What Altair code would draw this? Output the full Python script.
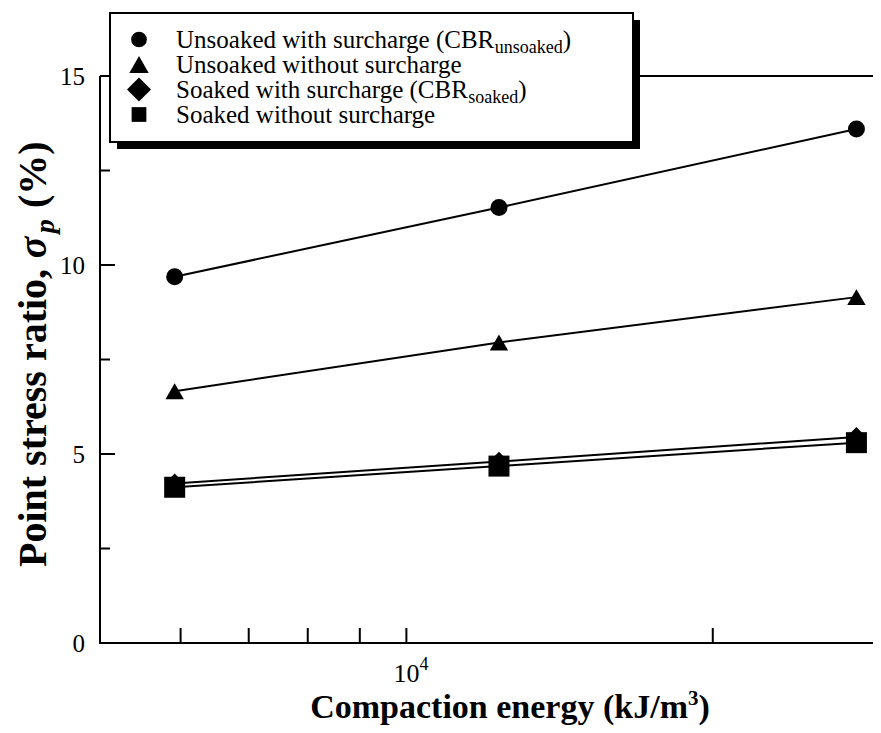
import altair as alt
import pandas as pd

# ---------------- data ----------------
energy = [5920, 12330, 27680]
series_names = [
    "Unsoaked with surcharge (CBR unsoaked)",
    "Unsoaked without surcharge",
    "Soaked with surcharge (CBR soaked)",
    "Soaked without surcharge",
]
unsoaked_with = [9.69, 11.52, 13.6]
unsoaked_without = [6.66, 7.95, 9.15]
soaked_with = [4.22, 4.80, 5.45]
soaked_without = [4.12, 4.68, 5.30]
series_values = [unsoaked_with, unsoaked_without, soaked_with, soaked_without]

legend_main = ["Unsoaked with surcharge (CBR", "Unsoaked without surcharge",
               "Soaked with surcharge (CBR", "Soaked without surcharge"]
legend_sub = ["unsoaked", "", "soaked", ""]
legend_tail = [")", "", ")", ""]

x_tick_values = [6000, 7000, 8000, 9000, 10000, 20000]
x_label_values = [10000]
y_major_ticks = [0, 5, 10, 15]
y_major_labels = ["0", "5", "10", "15"]
y_minor_ticks = [2.5, 7.5, 12.5]

shapes = ["circle", "triangle-up", "diamond", "square"]
sizes = [289, 441, 676, 256]

# ---------------- layout helpers ----------------
W, H = 792, 567
FONT = "Liberation Serif"
TIMES = {'U': 722, 'n': 500, 's': 389, 'o': 500, 'a': 444, 'k': 500, 'e': 444, 'd': 500,
         ' ': 250, 'w': 722, 'i': 278, 't': 278, 'h': 500, 'u': 500, 'r': 333, 'c': 444,
         'g': 500, '(': 333, 'C': 667, 'B': 667, 'R': 667, 'S': 556, ')': 333}
TIMES_B = {'P': 611, 'o': 500, 'i': 278, 'n': 556, 't': 333, 's': 389, 'r': 444, 'e': 444,
           'a': 500, ',': 250, ' ': 250, '(': 333, '%': 1000, ')': 333,
           'C': 722, 'm': 833, 'p': 556, 'c': 444, 'g': 500, 'y': 500, 'k': 556,
           'J': 500, '/': 278}


def tw(s, size, table):
    return sum(table.get(c, 500) for c in s) * size / 1000.0


rows = []
for name, vals in zip(series_names, series_values):
    for e, v in zip(energy, vals):
        rows.append({"series": name, "energy": e, "ratio": v})
df = pd.DataFrame(rows)

xscale = alt.Scale(type="log", domain=[5000, 30000], nice=False)
yscale = alt.Scale(domain=[0, 15], nice=False, zero=False)

one = pd.DataFrame({"k": [0]})

lines = alt.Chart(df).mark_line(color="black", strokeWidth=2).encode(
    x=alt.X("energy:Q", scale=xscale, axis=None),
    y=alt.Y("ratio:Q", scale=yscale, axis=None),
    detail="series:N",
)

points = alt.Chart(df).mark_point(filled=True, opacity=1, color="black").encode(
    x=alt.X("energy:Q", scale=xscale, axis=None),
    y=alt.Y("ratio:Q", scale=yscale, axis=None),
    shape=alt.Shape("series:N", scale=alt.Scale(domain=series_names, range=shapes), legend=None),
    size=alt.Size("series:O", scale=alt.Scale(domain=series_names, range=sizes), legend=None),
)

# frame
frame = [
    alt.Chart(one).mark_rule(color="black", strokeWidth=2).encode(
        x=alt.value(0), y=alt.value(0), y2=alt.value(H)),
    alt.Chart(one).mark_rule(color="black", strokeWidth=2).encode(
        x=alt.value(W), y=alt.value(0), y2=alt.value(H)),
    alt.Chart(one).mark_rule(color="black", strokeWidth=2).encode(
        y=alt.value(0), x=alt.value(0), x2=alt.value(W)),
    alt.Chart(one).mark_rule(color="black", strokeWidth=2).encode(
        y=alt.value(H), x=alt.value(-1), x2=alt.value(W)),
]

# ticks (inward)
xt = pd.DataFrame({"t": x_tick_values})
ymj = pd.DataFrame({"t": y_major_ticks, "lab": y_major_labels})
ymn = pd.DataFrame({"t": y_minor_ticks})
ticks = [
    alt.Chart(xt).mark_rule(color="black", strokeWidth=2).encode(
        x=alt.X("t:Q", scale=xscale, axis=None), y=alt.value(H), y2=alt.value(H - 15)),
    alt.Chart(ymj).mark_rule(color="black", strokeWidth=2).encode(
        y=alt.Y("t:Q", scale=yscale, axis=None), x=alt.value(0), x2=alt.value(15)),
    alt.Chart(ymn).mark_rule(color="black", strokeWidth=2).encode(
        y=alt.Y("t:Q", scale=yscale, axis=None), x=alt.value(0), x2=alt.value(10)),
    alt.Chart(ymj).mark_rule(color="black", strokeWidth=2).encode(
        y=alt.Y("t:Q", scale=yscale, axis=None), x=alt.value(W), x2=alt.value(W - 15)),
    alt.Chart(ymn).mark_rule(color="black", strokeWidth=2).encode(
        y=alt.Y("t:Q", scale=yscale, axis=None), x=alt.value(W), x2=alt.value(W - 10)),
]

# y tick labels
ylabels = alt.Chart(ymj).mark_text(font=FONT, fontSize=25, color="black", align="right",
                                   baseline="middle", dy=1).encode(
    y=alt.Y("t:Q", scale=yscale, axis=None), x=alt.value(-15), text="lab:N")

# x tick label 10^4
xl = pd.DataFrame({"t": x_label_values})
xlabels = [
    alt.Chart(xl).mark_text(text="10", font=FONT, fontSize=26, color="black", align="center",
                            baseline="alphabetic", dx=0).encode(
        x=alt.X("t:Q", scale=xscale, axis=None), y=alt.value(H + 39)),
    alt.Chart(xl).mark_text(text="4", font=FONT, fontSize=18, color="black", align="left",
                            baseline="alphabetic", dx=13).encode(
        x=alt.X("t:Q", scale=xscale, axis=None), y=alt.value(H + 27)),
]

# x title
XT = 34
xt_main = "Compaction energy (kJ/m"
xt_w = tw(xt_main, XT, TIMES_B)
xt_total = xt_w + 0.5 * 21 + 0.333 * XT
xt_left = 410 - xt_total / 2
xtitle = [
    alt.Chart(one).mark_text(text=xt_main, font=FONT, fontSize=XT, fontWeight="bold",
                             align="left", baseline="alphabetic", color="black").encode(
        x=alt.value(xt_left), y=alt.value(H + 75)),
    alt.Chart(one).mark_text(text="3", font=FONT, fontSize=21, fontWeight="bold",
                             align="left", baseline="alphabetic", color="black").encode(
        x=alt.value(xt_left + xt_w), y=alt.value(H + 62)),
    alt.Chart(one).mark_text(text=")", font=FONT, fontSize=XT, fontWeight="bold",
                             align="left", baseline="alphabetic", color="black").encode(
        x=alt.value(xt_left + xt_w + 10.5), y=alt.value(H + 75)),
]

# y title composite (rotated)
YT = 40
ytx = -54
y0 = 491
p1 = "Point stress ratio, "
w1 = tw(p1, YT, TIMES_B)
wsig = 0.62 * YT
psz = 0.7 * YT
wp = 0.55 * psz
ytitle = [
    alt.Chart(one).mark_text(text=p1, font=FONT, fontSize=YT, fontWeight="bold", angle=270,
                             align="left", baseline="alphabetic", color="black").encode(
        x=alt.value(ytx), y=alt.value(y0)),
    alt.Chart(one).mark_text(text="σ", font=FONT, fontSize=YT, fontWeight="bold",
                             fontStyle="italic", angle=270, align="left",
                             baseline="alphabetic", color="black").encode(
        x=alt.value(ytx), y=alt.value(y0 - w1)),
    alt.Chart(one).mark_text(text="p", font=FONT, fontSize=psz, fontWeight="bold",
                             fontStyle="italic", angle=270, align="left",
                             baseline="alphabetic", color="black").encode(
        x=alt.value(ytx + 8), y=alt.value(y0 - w1 - wsig)),
    alt.Chart(one).mark_text(text="(%)", font=FONT, fontSize=YT, fontWeight="bold",
                             angle=270, align="left", baseline="alphabetic",
                             color="black").encode(
        x=alt.value(ytx), y=alt.value(y0 - w1 - wsig - wp - 0.25 * YT)),
]

# legend box
LX0, LX1, LY0, LY1 = 10, 533, -63, 66
legend_layers = [
    alt.Chart(one).mark_rect(color="black").encode(
        x=alt.value(LX0 + 7), x2=alt.value(LX1 + 7), y=alt.value(LY0 + 7), y2=alt.value(LY1 + 7)),
    alt.Chart(one).mark_rect(fill="white", stroke="black", strokeWidth=2).encode(
        x=alt.value(LX0), x2=alt.value(LX1), y=alt.value(LY0), y2=alt.value(LY1)),
]
LS = 25
SUBS = 18
sym_x = 39
txt_x = 76
baselines = [-28.5, -3.5, 21.5, 46.5]
for i in range(4):
    base = baselines[i]
    legend_layers.append(
        alt.Chart(one).mark_point(shape=shapes[i], size=sizes[i] * 0.85, filled=True, opacity=1,
                                  color="black").encode(
            x=alt.value(sym_x), y=alt.value(base - 8)))
    legend_layers.append(
        alt.Chart(one).mark_text(text=legend_main[i], font=FONT, fontSize=LS, align="left",
                                 baseline="alphabetic", color="black").encode(
            x=alt.value(txt_x), y=alt.value(base)))
    if legend_sub[i]:
        xs = txt_x + tw(legend_main[i], LS, TIMES)
        legend_layers.append(
            alt.Chart(one).mark_text(text=legend_sub[i], font=FONT, fontSize=SUBS, align="left",
                                     baseline="alphabetic", color="black").encode(
                x=alt.value(xs), y=alt.value(base + 5)))
        xt2 = xs + tw(legend_sub[i], SUBS, TIMES)
        legend_layers.append(
            alt.Chart(one).mark_text(text=legend_tail[i], font=FONT, fontSize=LS, align="left",
                                     baseline="alphabetic", color="black").encode(
                x=alt.value(xt2), y=alt.value(base)))

chart = alt.layer(
    lines, points, *frame, *ticks, ylabels, *xlabels, *xtitle, *ytitle, *legend_layers
).properties(
    width=W, height=H,
    autosize=alt.AutoSizeParams(type="none"),
    padding={"left": 92, "top": 68, "right": -19, "bottom": 83},
).configure_view(stroke=None).configure(background="white")

chart.save("out.html", embed_options={"renderer": "svg", "actions": False})
